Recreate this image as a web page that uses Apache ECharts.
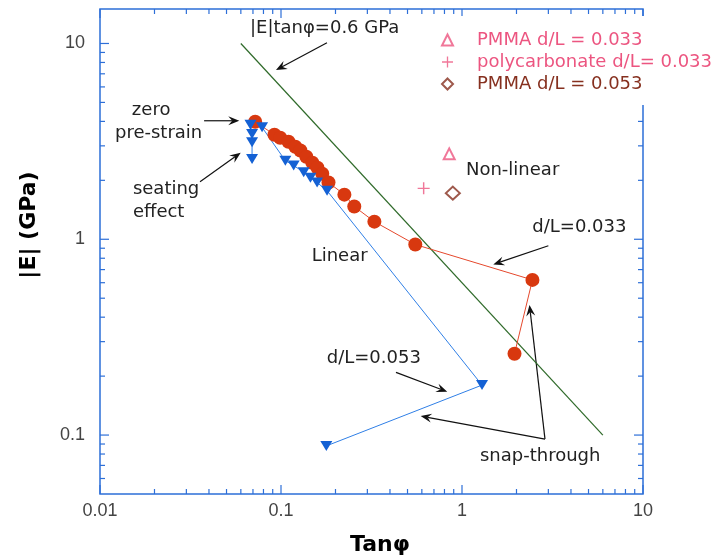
<!DOCTYPE html>
<html>
<head>
<meta charset="utf-8">
<script src="https://cdn.jsdelivr.net/npm/echarts@6/dist/echarts.min.js"></script>
<style>
  html, body { margin: 0; padding: 0; background: #fff; }
  #chart { width: 722px; height: 560px; }
</style>
</head>
<body>
<div id="chart"></div>
<script>
// d/L = 0.033 (red circles)
var redX = [0.072, 0.092, 0.099, 0.110, 0.120, 0.128, 0.138, 0.149, 0.159, 0.169, 0.183, 0.224, 0.254, 0.328, 0.552, 2.45, 1.95];
var redY = [3.98, 3.42, 3.30, 3.15, 2.97, 2.84, 2.64, 2.46, 2.32, 2.16, 1.95, 1.69, 1.47, 1.23, 0.94, 0.62, 0.26];

// d/L = 0.053 (blue triangles)
var blueX = [0.0692, 0.0692, 0.0692, 0.0678, 0.0786, 0.1057, 0.1175, 0.1335, 0.1454, 0.1583, 0.1797, 1.29, 0.178];
var blueY = [2.57, 3.13, 3.45, 3.85, 3.73, 2.52, 2.38, 2.20, 2.06, 1.95, 1.77, 0.18, 0.088];

// non-linear points
var pmma033 = [[0.85, 2.73]];
var polycarb033 = [[0.614, 1.82]];
var pmma053 = [[0.89, 1.72]];

// |E| tan(phi) = 0.6 GPa
var limitX = [0.06, 6];
var limitY = [10, 0.1];

// axis ticks
var xTicksMajor = [0.01, 0.1, 1, 10];
var xTicksMinor = [0.02, 0.03, 0.04, 0.05, 0.06, 0.07, 0.08, 0.09,
                   0.2, 0.3, 0.4, 0.5, 0.6, 0.7, 0.8, 0.9,
                   2, 3, 4, 5, 6, 7, 8, 9];
var yTicksMajor = [0.1, 1, 10];
var yTicksMinor = [0.06, 0.07, 0.08, 0.09,
                   0.2, 0.3, 0.4, 0.5, 0.6, 0.7, 0.8, 0.9,
                   2, 3, 4, 5, 6, 7, 8, 9];

// annotations, in data units
var notes = [
    { x: 0.0674, y: 11.98, text: '|E|tanφ=0.6 GPa' },
    { x: 0.0150, y: 4.57, text: 'zero' },
    { x: 0.0121, y: 3.49, text: 'pre-strain' },
    { x: 0.0152, y: 1.80, text: 'seating' },
    { x: 0.0152, y: 1.377, text: 'effect' },
    { x: 0.1477, y: 0.821, text: 'Linear' },
    { x: 1.052, y: 2.256, text: 'Non-linear' },
    { x: 2.446, y: 1.15, text: 'd/L=0.033' },
    { x: 0.1789, y: 0.2464, text: 'd/L=0.053' },
    { x: 1.257, y: 0.0781, text: 'snap-through' }
];
var arrows = [
    [0.1795, 10.08, 0.0938, 7.31],
    [0.0376, 4.03, 0.0588, 4.03],
    [0.0357, 1.967, 0.0599, 2.766],
    [3.0, 0.926, 1.489, 0.744],
    [0.4318, 0.209, 0.829, 0.1664],
    [2.874, 0.0954, 0.591, 0.125],
    [2.874, 0.0954, 2.36, 0.461]
];

var axisBlue = '#2d6fd8';
var pink = '#ec5580';
var brown = '#86301f';

function zip(xs, ys) {
    return xs.map(function (x, i) { return [x, ys[i]]; });
}

function decadeLabel(v) {
    var l = Math.log(v) / Math.LN10;
    var r = Math.round(l);
    if (Math.abs(l - r) > 0.01) return '';
    return String(+Math.pow(10, r).toFixed(4));
}

var tickData = []
    .concat(xTicksMajor.map(function (v) { return [v, 1, 1]; }))
    .concat(xTicksMinor.map(function (v) { return [v, 1, 0]; }))
    .concat(yTicksMajor.map(function (v) { return [1, v, 3]; }))
    .concat(yTicksMinor.map(function (v) { return [1, v, 2]; }));

var chart = echarts.init(document.getElementById('chart'));

var option = {
    animation: false,
    grid: {
        left: 100, right: 79, top: 9, bottom: 66,
        show: true, borderColor: axisBlue, borderWidth: 1.5
    },
    xAxis: {
        type: 'log', logBase: 10, min: 0.01, max: 10,
        axisLine: { show: false },
        axisTick: { show: false },
        splitLine: { show: false },
        axisLabel: {
            margin: 8, fontSize: 18, color: '#444', fontFamily: 'Liberation Sans',
            formatter: decadeLabel
        }
    },
    yAxis: {
        type: 'log', logBase: 10, min: 0.05, max: 15,
        axisLine: { show: false },
        axisTick: { show: false },
        splitLine: { show: false },
        axisLabel: {
            margin: 15, fontSize: 18, color: '#444', fontFamily: 'Liberation Sans',
            formatter: decadeLabel
        }
    },
    legend: {
        orient: 'vertical', left: 414, top: 16,
        padding: [13, 10, 10, 27],
        backgroundColor: '#fff',
        itemWidth: 11, itemHeight: 11, itemGap: 0,
        selectedMode: false,
        textStyle: { fontFamily: 'DejaVu Sans', fontSize: 18, lineHeight: 22, padding: [0, 0, 0, 19] },
        data: [
            { name: 'PMMA d/L = 0.033', textStyle: { color: pink } },
            { name: 'polycarbonate d/L= 0.033', textStyle: { color: pink } },
            { name: 'PMMA d/L = 0.053', textStyle: { color: brown } }
        ]
    },
    graphic: [
        {
            type: 'text', x: 380, y: 545,
            style: { text: 'Tanφ', font: 'bold 22px "DejaVu Sans"', fill: '#000', align: 'center', verticalAlign: 'middle' }
        },
        {
            type: 'text', x: 29, y: 225, rotation: Math.PI / 2,
            style: { text: '|E| (GPa)', font: 'bold 22px "DejaVu Sans"', fill: '#000', align: 'center', verticalAlign: 'middle' }
        }
    ],
    series: [
        {
            type: 'custom', silent: true, z: 1,
            dimensions: ['x', 'y', 'k'],
            encode: { x: 0, y: 1 },
            data: tickData,
            renderItem: function (params, api) {
                var cs = params.coordSys;
                var k = api.value(2);
                var len = (k === 1 || k === 3) ? 9 : 5;
                var st = { stroke: axisBlue, lineWidth: 1.2 };
                if (k < 2) {
                    var x = api.coord([api.value(0), 1])[0];
                    return { type: 'group', children: [
                        { type: 'line', shape: { x1: x, y1: cs.y + cs.height, x2: x, y2: cs.y + cs.height - len }, style: st },
                        { type: 'line', shape: { x1: x, y1: cs.y, x2: x, y2: cs.y + len }, style: st }
                    ] };
                }
                var y = api.coord([1, api.value(1)])[1];
                return { type: 'group', children: [
                    { type: 'line', shape: { x1: cs.x, y1: y, x2: cs.x + len, y2: y }, style: st },
                    { type: 'line', shape: { x1: cs.x + cs.width, y1: y, x2: cs.x + cs.width - len, y2: y }, style: st }
                ] };
            }
        },
        {
            name: '|E|tanφ=0.6 GPa', type: 'line',
            data: zip(limitX, limitY),
            symbol: 'none',
            lineStyle: { color: '#2f6a2a', width: 1.2 }
        },
        {
            name: 'd/L=0.033', type: 'line',
            data: zip(redX, redY),
            symbol: 'circle', symbolSize: 14,
            itemStyle: { color: '#d8380f' },
            lineStyle: { color: '#e5482c', width: 1 }
        },
        {
            name: 'd/L=0.053', type: 'line',
            data: zip(blueX, blueY),
            symbol: 'triangle', symbolRotate: 180, symbolSize: [12, 10],
            itemStyle: { color: '#1461d4' },
            lineStyle: { color: '#2f7fe6', width: 1 }
        },
        {
            name: 'PMMA d/L = 0.033', type: 'scatter',
            data: pmma033,
            symbol: 'emptyTriangle', symbolSize: 11,
            itemStyle: { color: pink, borderColor: pink, borderWidth: 1.3 }
        },
        {
            name: 'polycarbonate d/L= 0.033', type: 'scatter',
            data: polycarb033,
            symbol: 'path://M4.4,0H5.6V4.4H10V5.6H5.6V10H4.4V5.6H0V4.4H4.4Z', symbolSize: 12,
            itemStyle: { color: pink }
        },
        {
            name: 'PMMA d/L = 0.053', type: 'scatter',
            data: pmma053,
            symbol: 'emptyDiamond', symbolSize: [14, 13],
            itemStyle: { color: brown, borderColor: brown, borderWidth: 1.3 }
        },
        {
            type: 'custom', silent: true, z: 3,
            encode: { x: [0, 2], y: [1, 3] },
            data: arrows,
            renderItem: function (params, api) {
                var a = api.coord([api.value(0), api.value(1)]);
                var b = api.coord([api.value(2), api.value(3)]);
                var dx = b[0] - a[0], dy = b[1] - a[1];
                var L = Math.sqrt(dx * dx + dy * dy);
                var ux = dx / L, uy = dy / L;
                var hl = 11, hw = 4.5;
                var bx = b[0] - ux * hl, by = b[1] - uy * hl;
                var nx = b[0] - ux * 7, ny = b[1] - uy * 7;
                return { type: 'group', children: [
                    { type: 'line', shape: { x1: a[0], y1: a[1], x2: nx, y2: ny }, style: { stroke: '#111', lineWidth: 1.2 } },
                    { type: 'polygon', shape: { points: [[b[0], b[1]], [bx - uy * hw, by + ux * hw], [nx, ny], [bx + uy * hw, by - ux * hw]] }, style: { fill: '#111' } }
                ] };
            }
        },
        {
            type: 'custom', silent: true, z: 3,
            encode: { x: 0, y: 1 },
            data: notes.map(function (n) { return [n.x, n.y]; }),
            renderItem: function (params, api) {
                var p = api.coord([api.value(0), api.value(1)]);
                return {
                    type: 'text', x: p[0], y: p[1],
                    style: {
                        text: notes[params.dataIndex].text,
                        font: '18px "DejaVu Sans"', fill: '#222',
                        align: 'left', verticalAlign: 'middle'
                    }
                };
            }
        }
    ]
};

chart.setOption(option);
</script>
</body>
</html>
